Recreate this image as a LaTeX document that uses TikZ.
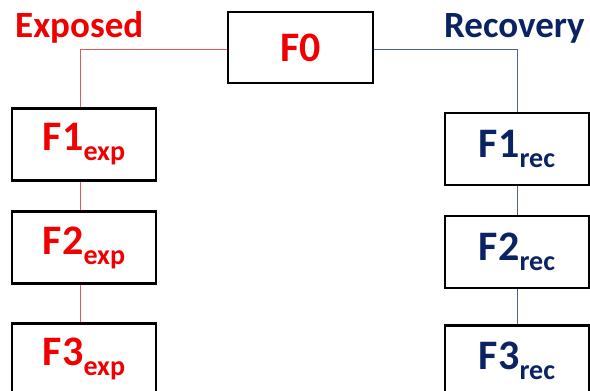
\documentclass[tikz,border=0pt]{standalone}
\usepackage{fontspec}
\setmainfont{Carlito}
\definecolor{expred}{HTML}{F00000}
\definecolor{recblue}{HTML}{0A2463}
\definecolor{expline}{HTML}{E05A5A}
\definecolor{recline}{HTML}{4F6384}
\newcommand{\sublbl}[1]{\raisebox{-10pt}{\fontsize{28}{28}\selectfont #1}}
\tikzset{
  fbox/.style={draw=black, line width=2.6pt, fill=white, minimum width=144pt, minimum height=72pt, inner sep=0pt, font=\fontsize{42}{42}\selectfont\bfseries},
  expbox/.style={fbox, text=expred},
  recbox/.style={fbox, text=recblue},
  headlbl/.style={inner sep=0pt, font=\fontsize{37}{37}\selectfont\bfseries},
  expconn/.style={draw=expline, line width=1pt},
  recconn/.style={draw=recline, line width=1pt}
}
\begin{document}
\begin{tikzpicture}[x=1pt,y=-1pt]
\useasboundingbox (0,0) rectangle (590,391);
\clip (0,0) rectangle (590,391);
\fill[white] (0,0) rectangle (590,391);
\node[expbox, minimum width=145pt, minimum height=71pt] (F0) at (300.5,47.5) {F0};
\node[expbox] (F1e) at (84,144.5) {F1\sublbl{exp}};
\node[expbox] (F2e) at (84,247.5) {F2\sublbl{exp}};
\node[expbox, anchor=north] (F3e) at (84,322) {F3\sublbl{exp}};
\node[recbox] (F1r) at (517,149) {F1\sublbl{rec}};
\node[recbox] (F2r) at (517,252) {F2\sublbl{rec}};
\node[recbox, anchor=north] (F3r) at (517,324) {F3\sublbl{rec}};
\node[headlbl, text=expred, anchor=base west] (exp) at (15,37) {Exposed};
\node[headlbl, text=recblue, anchor=base east] (rec) at (585,37) {Recovery};
\coordinate (cl) at (80,49);
\coordinate (cr) at (517,49);
\begin{scope}[on background layer/.style={}]
\end{scope}
\draw[expconn] (F0.west |- cl) -- (cl) -- (cl |- F1e.north);
\draw[expconn] (F1e.south -| cl) -- (cl |- F2e.north);
\draw[expconn] (F2e.south -| cl) -- (cl |- F3e.north);
\draw[recconn] (F0.east |- cr) -- (cr) -- (F1r.north);
\draw[recconn] (F1r) -- (F2r);
\draw[recconn] (F2r.south) -- (F3r.north);
\end{tikzpicture}
\end{document}
